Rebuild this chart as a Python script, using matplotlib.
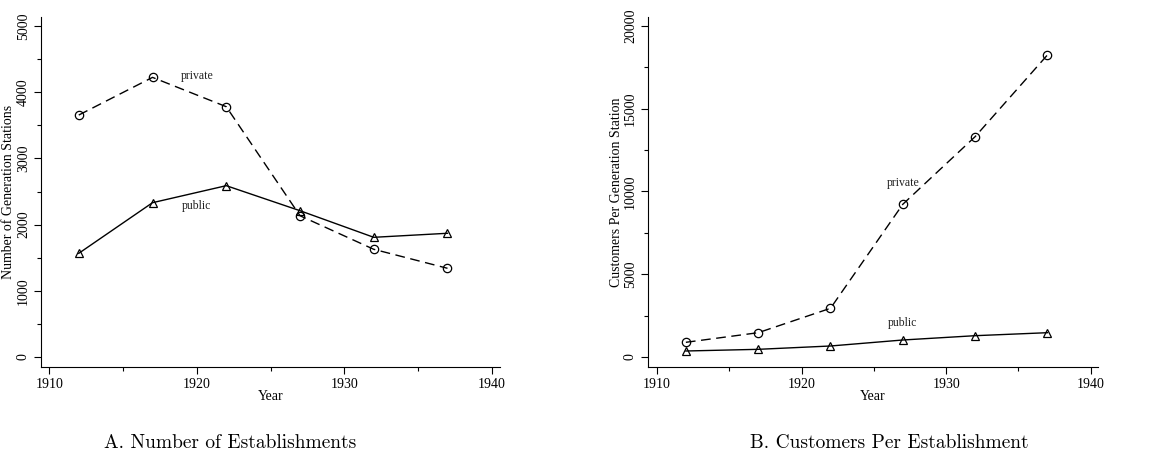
import numpy as np
import matplotlib
matplotlib.use("Agg")
import matplotlib.pyplot as plt
from matplotlib.ticker import MultipleLocator

years = [1912, 1917, 1922, 1927, 1932, 1937]

# panel A: number of generation stations
stations_private = [3655, 4224, 3781, 2134, 1627, 1340]
stations_public = [1566, 2331, 2588, 2210, 1808, 1869]

# panel B: customers per generation station
customers_private = [887, 1467, 2940, 9218, 13299, 18231]
customers_public = [362, 463, 664, 1026, 1286, 1467]

x_ticks = [1910, 1920, 1930, 1940]

serif = "Liberation Serif"
plt.rcParams["font.family"] = serif

fig = plt.figure(figsize=(11.71, 4.66), dpi=100)


def draw_panel(ax, priv, pub, ylabel, ylim, ymajor, yminor, xlim,
               priv_lab, pub_lab):
    ax.plot(years, priv, color="black", lw=1.0, ls=(0, (7, 4)),
            marker="o", ms=6, mfc="none", mec="black", mew=0.9)
    ax.plot(years, pub, color="black", lw=1.0, ls="-",
            marker="^", ms=6, mfc="none", mec="black", mew=0.9)
    ax.text(priv_lab[0], priv_lab[1], "private", fontsize=8.5, ha="center",
            va="center", color="#222222")
    ax.text(pub_lab[0], pub_lab[1], "public", fontsize=8.5, ha="center",
            va="center", color="#222222")

    ax.set_xlim(*xlim)
    ax.set_ylim(*ylim)
    ax.set_xticks(x_ticks)
    ax.xaxis.set_minor_locator(MultipleLocator(5))
    ax.yaxis.set_major_locator(MultipleLocator(ymajor))
    ax.yaxis.set_minor_locator(MultipleLocator(yminor))
    ax.tick_params(which="major", length=5, width=0.8, labelsize=10, pad=3)
    ax.tick_params(which="minor", length=3, width=0.8)
    for lab in ax.get_yticklabels():
        lab.set_rotation(90)
        lab.set_va("center")
    ax.set_xlabel("Year", fontsize=10, labelpad=-1)
    ax.set_ylabel(ylabel, fontsize=10, labelpad=1)
    for s in ["top", "right"]:
        ax.spines[s].set_visible(False)
    for s in ["left", "bottom"]:
        ax.spines[s].set_linewidth(0.8)


ax1 = fig.add_axes([41 / 1171, 1 - 367 / 466, 459 / 1171, 350 / 466])
draw_panel(ax1, stations_private, stations_public,
           "Number of Generation Stations",
           (-151, 5136), 1000, 500, (1909.44, 1940.56),
           (1920.0, 4250), (1920.0, 2285))

ax2 = fig.add_axes([648 / 1171, 1 - 367 / 466, 450 / 1171, 350 / 466])
draw_panel(ax2, customers_private, customers_public,
           "Customers Per Generation Station",
           (-604, 20525), 5000, 2500, (1909.38, 1940.5),
           (1927.0, 10520), (1927.0, 2030))

fig.text(230 / 1171, 1 - 443 / 466, "A. Number of Establishments",
         fontsize=14, ha="center", va="center", family="cmr10")
fig.text(889 / 1171, 1 - 443 / 466, "B. Customers Per Establishment",
         fontsize=14, ha="center", va="center", family="cmr10")

fig.savefig("out.png", dpi=100)
